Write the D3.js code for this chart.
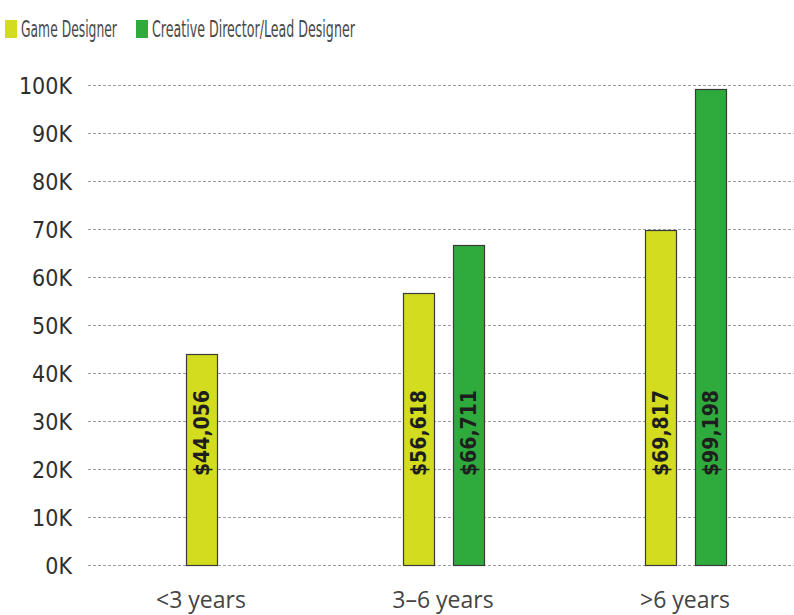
<!DOCTYPE html>
<html>
<head>
<meta charset="utf-8">
<script src="https://cdn.jsdelivr.net/npm/d3@7"></script>
<style>
  html, body { margin: 0; padding: 0; background: #ffffff; }
  svg { display: block; }
</style>
</head>
<body>
<svg id="chart" width="794" height="615"></svg>
<script>
// ---- data ----
const categories = ["<3 years", "3\u20136 years", ">6 years"];
const seriesNames = ["Game Designer", "Creative Director/Lead Designer"];
const gameDesigner = [44056, 56618, 69817];
const creativeDirector = [null, 66711, 99198];
const yTicks = [0, 10000, 20000, 30000, 40000, 50000, 60000, 70000, 80000, 90000, 100000];
const seriesColors = ["#d4dc1f", "#2faa3c"];

const seriesValues = [gameDesigner, creativeDirector];

const svg = d3.select("#chart");
const W = 794, H = 615;

const y = d3.scaleLinear().domain([0, 100000]).range([565, 85]);
const x0 = d3.scaleBand().domain(categories).range([80, 806]).padding(0);

const condensed = "'DejaVu Sans Condensed', 'DejaVu Sans', sans-serif";

// gridlines
const grid = svg.append("g");
grid.selectAll("line").data(yTicks).join("line")
  .attr("x1", 88).attr("x2", W)
  .attr("y1", d => Math.round(y(d)) + 0.5).attr("y2", d => Math.round(y(d)) + 0.5)
  .attr("stroke", "#9aa0a8").attr("stroke-width", 1).attr("stroke-dasharray", "3,2");

// y axis labels
const yAxis = d3.axisLeft(y).tickValues(yTicks).tickSize(0).tickPadding(0)
  .tickFormat(d => (d / 1000) + "K");
const ya = svg.append("g").attr("transform", "translate(72,0)").call(yAxis);
ya.select(".domain").remove();
ya.selectAll("text")
  .attr("font-family", condensed)
  .style("font-stretch", "condensed")
  .attr("font-size", 23)
  .attr("fill", "#2e2e2e")
  .attr("dy", "0.36em");

// bars
const groups = svg.append("g").selectAll("g").data(categories).join("g")
  .attr("transform", c => `translate(${x0(c) + x0.bandwidth() / 2},0)`);

groups.each(function (c, i) {
  const present = seriesNames.map((s, si) => ({ s, si, v: seriesValues[si][i] }))
    .filter(d => d.v != null);
  const x1 = d3.scaleBand().domain(present.map(d => d.s))
    .range([-25 * present.length, 25 * present.length])
    .paddingInner(0.38).paddingOuter(0.19);
  const g = d3.select(this);
  g.selectAll("rect").data(present).join("rect")
    .attr("x", d => Math.round(x1(d.s)) + 0.5)
    .attr("y", d => Math.round(y(d.v)) + 0.5)
    .attr("width", x1.bandwidth())
    .attr("height", d => y(0) - Math.round(y(d.v)))
    .attr("fill", d => seriesColors[d.si])
    .attr("stroke", "#3a3a3a").attr("stroke-width", 1.2);
  g.selectAll("text").data(present).join("text")
    .attr("transform", d => `translate(${x1(d.s) + x1.bandwidth() / 2},${y(27500)}) rotate(-90)`)
    .attr("text-anchor", "middle")
    .attr("dy", "0.36em")
    .attr("font-family", condensed)
    .style("font-stretch", "condensed")
    .attr("font-size", 21)
    .attr("font-weight", "bold")
    .attr("fill", "#1e1e1e")
    .text(d => "$" + d3.format(",")(d.v));
});

// x labels
svg.append("g").selectAll("text").data(categories).join("text")
  .attr("x", c => x0(c) + x0.bandwidth() / 2)
  .attr("y", 608)
  .attr("text-anchor", "middle")
  .attr("font-family", "'Open Sans', 'DejaVu Sans', sans-serif")
  .attr("font-size", 23)
  .attr("fill", "#444")
  .text(c => c);

// legend (text narrowed horizontally to the condensed look of the original)
const legend = svg.append("g");
const legX = [5, 136];
const legW = [96, 203];
seriesNames.forEach((s, i) => {
  legend.append("rect").attr("x", legX[i]).attr("y", 20).attr("width", 12).attr("height", 18)
    .attr("fill", seriesColors[i]);
  const t = legend.append("text").attr("x", 0).attr("y", 0).attr("dy", "0.36em")
    .attr("font-family", condensed)
    .style("font-stretch", "condensed")
    .attr("font-size", 23)
    .attr("fill", "#4a4a4a")
    .text(s);
  const natural = t.node().getComputedTextLength() || legW[i];
  const sx = Math.min(1, legW[i] / natural);
  t.attr("transform", `translate(${legX[i] + 16},29) scale(${sx},1)`);
});
</script>
</body>
</html>
